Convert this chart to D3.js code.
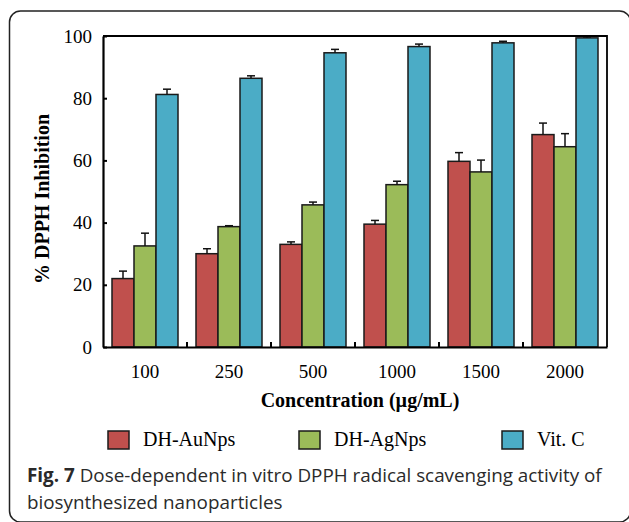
<!DOCTYPE html>
<html>
<head>
<meta charset="utf-8">
<script src="https://cdn.jsdelivr.net/npm/d3@7"></script>
<style>
  body { margin: 0; background: #fff; }
  svg { display: block; }
</style>
</head>
<body>
<div id="chart"></div>
<script>
// data
var categories = ["100", "250", "500", "1000", "1500", "2000"];
var seriesNames = ["DH-AuNps", "DH-AgNps", "Vit. C"];
var auValues = [22, 30, 33, 39.5, 59.7, 68.3];
var auErr = [2.4, 1.6, 0.8, 1.2, 2.8, 3.7];
var agValues = [32.5, 38.7, 45.7, 52.2, 56.3, 64.4];
var agErr = [4.1, 0.3, 0.9, 1.1, 3.8, 4.2];
var vitValues = [81.2, 86.4, 94.6, 96.6, 97.8, 99.4];
var vitErr = [1.7, 0.8, 1.1, 0.8, 0.5, 0.3];
var yTicks = [0, 20, 40, 60, 80, 100];
var colors = ["#C0504D", "#9BBB59", "#4BACC6"];

var allValues = [auValues, agValues, vitValues];
var allErr = [auErr, agErr, vitErr];

var width = 629, height = 522;
var plotLeft = 103, plotRight = 607, plotTop = 36, plotBottom = 347;

var svg = d3.select("#chart").append("svg")
    .attr("width", width)
    .attr("height", height);

// rounded frame around the figure
svg.append("rect")
    .attr("x", 9.5).attr("y", 11)
    .attr("width", 621).attr("height", 511)
    .attr("rx", 11)
    .attr("fill", "none")
    .attr("stroke", "#222")
    .attr("stroke-width", 1.5);

var x0 = d3.scaleBand().domain(categories).range([plotLeft, plotRight]).padding(0);
var x1 = d3.scaleBand().domain(d3.range(3)).range([9, x0.bandwidth() - 9]).padding(0);
var y = d3.scaleLinear().domain([0, 100]).range([plotBottom, plotTop]);

// bars
var rows = [];
categories.forEach(function(c, i) {
    for (var s = 0; s < 3; s++) {
        rows.push({cat: c, s: s, v: allValues[s][i], e: allErr[s][i]});
    }
});

function barMid(d) { return x0(d.cat) + x1(d.s) + x1.bandwidth() / 2; }

svg.selectAll(".bar").data(rows).enter().append("rect")
    .attr("class", "bar")
    .attr("x", function(d) { return x0(d.cat) + x1(d.s); })
    .attr("y", function(d) { return y(d.v); })
    .attr("width", x1.bandwidth())
    .attr("height", function(d) { return y(0) - y(d.v); })
    .attr("fill", function(d) { return colors[d.s]; })
    .attr("stroke", "#1a1a1a")
    .attr("stroke-width", 1.5);

// error bars (upper only)
var err = svg.selectAll(".err").data(rows).enter().append("g").attr("class", "err");
err.append("line")
    .attr("x1", barMid)
    .attr("x2", barMid)
    .attr("y1", function(d) { return y(d.v); })
    .attr("y2", function(d) { return y(d.v + d.e); })
    .attr("stroke", "#111").attr("stroke-width", 1.5);
err.append("line")
    .attr("x1", function(d) { return barMid(d) - 4; })
    .attr("x2", function(d) { return barMid(d) + 4; })
    .attr("y1", function(d) { return y(d.v + d.e); })
    .attr("y2", function(d) { return y(d.v + d.e); })
    .attr("stroke", "#111").attr("stroke-width", 1.5);

// plot frame top and right
svg.append("path")
    .attr("d", "M" + plotLeft + "," + plotTop + "H" + plotRight + "V" + plotBottom)
    .attr("fill", "none")
    .attr("stroke", "#000")
    .attr("stroke-width", 1.8);

// y axis
var yAxis = svg.append("g")
    .attr("transform", "translate(" + plotLeft + ",0)")
    .call(d3.axisLeft(y).tickValues(yTicks).tickSizeInner(-4).tickSizeOuter(0).tickPadding(11));
yAxis.select(".domain").attr("stroke", "#000").attr("stroke-width", 2.2);
yAxis.selectAll(".tick line").attr("stroke", "#000").attr("stroke-width", 2);
yAxis.selectAll(".tick text")
    .attr("font-family", "Liberation Serif, Times New Roman, serif")
    .attr("font-size", 19)
    .attr("fill", "#000");

// x axis: labels at group centres, ticks at group boundaries
var xAxis = svg.append("g")
    .attr("transform", "translate(0," + plotBottom + ")")
    .call(d3.axisBottom(x0).tickSize(0).tickPadding(18));
xAxis.select(".domain").attr("stroke", "#000").attr("stroke-width", 2.2);
xAxis.selectAll(".tick text")
    .attr("font-family", "Liberation Serif, Times New Roman, serif")
    .attr("font-size", 19)
    .attr("fill", "#000");
svg.selectAll(".xsep").data(categories.slice(1)).enter().append("line")
    .attr("x1", function(d) { return x0(d); })
    .attr("x2", function(d) { return x0(d); })
    .attr("y1", plotBottom)
    .attr("y2", plotBottom - 5)
    .attr("stroke", "#000").attr("stroke-width", 2);

// axis titles
svg.append("text")
    .attr("transform", "translate(49,199) rotate(-90)")
    .attr("text-anchor", "middle")
    .attr("font-family", "Liberation Serif, Times New Roman, serif")
    .attr("font-weight", "bold")
    .attr("font-size", 20)
    .text("% DPPH Inhibition");

svg.append("text")
    .attr("x", 360).attr("y", 407)
    .attr("text-anchor", "middle")
    .attr("font-family", "Liberation Serif, Times New Roman, serif")
    .attr("font-weight", "bold")
    .attr("font-size", 20)
    .text("Concentration (\u00b5g/mL)");

// legend
var legendX = [108, 299, 502];
var legend = svg.selectAll(".legend").data(seriesNames).enter().append("g")
    .attr("transform", function(d, i) { return "translate(" + legendX[i] + ",431)"; });
legend.append("rect")
    .attr("width", 21).attr("height", 18)
    .attr("fill", function(d, i) { return colors[i]; })
    .attr("stroke", "#1a1a1a")
    .attr("stroke-width", 1.5);
legend.append("text")
    .attr("x", 35).attr("y", 15)
    .attr("font-family", "Liberation Serif, Times New Roman, serif")
    .attr("font-size", 20)
    .text(function(d) { return d; });

// caption
var cap1 = svg.append("text")
    .attr("x", 27).attr("y", 482)
    .attr("font-family", "Open Sans, sans-serif")
    .attr("font-size", 16)
    .attr("fill", "#2a2a2a");
cap1.append("tspan").attr("font-weight", "bold").text("Fig. 7");
cap1.append("tspan").text(" Dose-dependent in vitro DPPH radical scavenging activity of");

var cap2 = svg.append("text")
    .attr("x", 27).attr("y", 509)
    .attr("font-family", "Open Sans, sans-serif")
    .attr("font-size", 16)
    .attr("fill", "#2a2a2a")
    .text("biosynthesized nanoparticles");

// fit the caption width to the figure
var w = cap1.node().getComputedTextLength();
var fs = 16 * 575 / w;
cap1.attr("font-size", fs);
cap2.attr("font-size", fs);
</script>
</body>
</html>
